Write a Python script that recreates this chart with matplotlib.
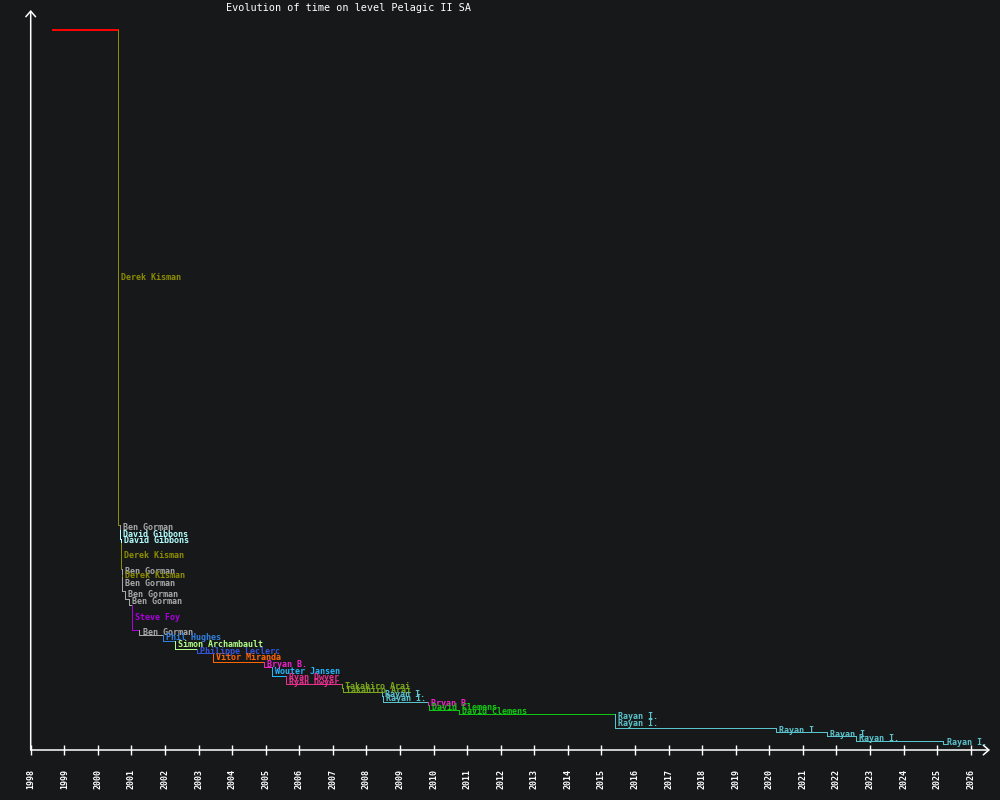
import matplotlib
matplotlib.use("Agg")
import matplotlib.pyplot as plt

plt.rcParams["font.family"] = ["DejaVu Sans Mono"]

BG = "#17181a"

# record history: date (decimal year), time, holder
dates = [1998.66, 2000.60, 2000.65, 2000.67, 2000.69, 2000.70, 2000.71, 2000.72,
         2000.73, 2000.82, 2000.94, 2001.01, 2001.24, 2001.95, 2002.30, 2002.96,
         2003.44, 2004.96, 2005.18, 2005.60, 2005.61, 2007.28, 2007.29, 2008.47,
         2008.48, 2009.84, 2009.85, 2010.77, 2015.40, 2015.41, 2020.19, 2021.71,
         2022.58, 2025.19]
times = [720, 225, 220, 211.5, 207, 181, 175, 173,
         159, 151.5, 145, 120, 115, 109.5, 101, 96.7,
         87.7, 83.3, 74.3, 70, 65.7, 62, 57.7, 54,
         48.3, 45, 40, 36, 30.5, 21.7, 17.7, 13.7,
         8.7, 5.7]
holders = ["", "Derek Kisman", "Ben Gorman", "David Gibbons", "David Gibbons",
           "Derek Kisman", "Ben Gorman", "Derek Kisman", "Ben Gorman", "Ben Gorman",
           "Ben Gorman", "Steve Foy", "Ben Gorman", "Phil Hughes", "Simon Archambault",
           "Philippe Leclerc", "Vitor Miranda", "Bryan B.", "Wouter Jansen", "Ryan Dwyer",
           "Ryan Dwyer", "Takahiro Arai", "Takahiro Arai", "Rayan I.", "Rayan I.",
           "Bryan B.", "David Clemens", "David Clemens", "Rayan I.", "Rayan I.",
           "Rayan I.", "Rayan I.", "Rayan I.", "Rayan I."]
end_date = 2025.30
years = list(range(1998, 2027))

colors = {
    "": "#ff0000",
    "Derek Kisman": "#8c8c00",
    "Ben Gorman": "#a8a8a8",
    "David Gibbons": "#b4ffff",
    "Steve Foy": "#aa00dd",
    "Phil Hughes": "#2f80e0",
    "Simon Archambault": "#b2ff8a",
    "Philippe Leclerc": "#3355e0",
    "Vitor Miranda": "#ff6600",
    "Bryan B.": "#f020c8",
    "Wouter Jansen": "#22b8ff",
    "Ryan Dwyer": "#e8308f",
    "Takahiro Arai": "#7aa81a",
    "Rayan I.": "#5ac3cc",
    "David Clemens": "#11c611",
}

fig = plt.figure(figsize=(10, 8), dpi=100)
fig.patch.set_facecolor(BG)
ax = fig.add_axes([30.7 / 1000, 50 / 800, (990 - 30.7) / 1000, 740 / 800])
ax.set_facecolor(BG)
ax.set_xlim(1998, 1998 + (990 - 30.7) / 33.57)
ax.set_ylim(0, 740)

for i in range(len(dates)):
    nxt = dates[i + 1] if i + 1 < len(dates) else end_date
    c = colors[holders[i]]
    if i == 0:
        ax.plot([dates[i], nxt], [times[i], times[i]], color=c, lw=1.3,
                antialiased=False)
        continue
    ax.plot([dates[i], dates[i], nxt], [times[i - 1], times[i], times[i]],
            color=c, lw=0.7, antialiased=False)
    ax.annotate(holders[i], xy=(dates[i], (times[i - 1] + times[i]) / 2),
                xytext=(2.2, 0), textcoords="offset points",
                ha="left", va="center", fontsize=6.0, fontweight="bold",
                color=c)

for s in ax.spines.values():
    s.set_visible(False)

arrow = dict(arrowstyle="->, head_length=0.4, head_width=0.35", color="white",
             lw=1.1, shrinkA=0, shrinkB=0)
ax.annotate("", xy=(1, 0), xytext=(0, 0), xycoords="axes fraction",
            arrowprops=arrow, annotation_clip=False)
ax.annotate("", xy=(0, 1), xytext=(0, 0), xycoords="axes fraction",
            arrowprops=arrow, annotation_clip=False)

ax.set_xticks(years)
ax.set_xticklabels([str(y) for y in years], rotation=90, fontsize=6.0,
                   fontweight="bold", color="white")
ax.tick_params(axis="x", direction="inout", length=7, width=1, color="white",
               pad=10)
ax.set_yticks([])

fig.text(349 / 1000, 1 - 8 / 800, "Evolution of time on level Pelagic II SA",
         ha="center", va="center", fontsize=7.3, color="white")

fig.savefig("out.png", dpi=100, facecolor=BG)
